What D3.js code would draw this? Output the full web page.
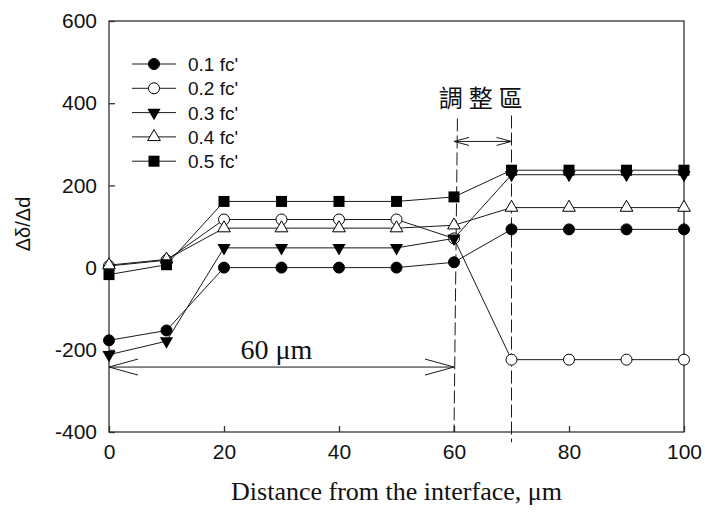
<!DOCTYPE html>
<html>
<head>
<meta charset="utf-8">
<script src="https://cdn.jsdelivr.net/npm/d3@7"></script>
<style>
body { margin: 0; background: #fff; }
svg text { font-family: Arial, "Liberation Sans", sans-serif; }
</style>
</head>
<body>
<svg id="chart" width="705" height="513"></svg>
<script>
var xs = [0, 10, 20, 30, 40, 50, 60, 70, 80, 90, 100];
var fc01 = [-177, -153, 0, 0, 0, 0, 13, 93, 93, 93, 93];
var fc02 = [4, 18, 117, 117, 117, 117, 71, -224, -224, -224, -224];
var fc03 = [-212, -179, 48, 48, 48, 48, 71, 226, 226, 226, 226];
var fc04 = [6, 20, 96, 96, 96, 96, 103, 146, 146, 146, 146];
var fc05 = [-17, 7, 161, 161, 161, 161, 172, 237, 237, 237, 237];
var seriesNames = ["0.1 fc'", "0.2 fc'", "0.3 fc'", "0.4 fc'", "0.5 fc'"];
var markerKinds = ["circleFill", "circleOpen", "triDown", "triUpOpen", "square"];
var xTicks = [0, 20, 40, 60, 80, 100];
var yTicks = [-400, -200, 0, 200, 400, 600];

// annotation values (data units)
var zoneLines = [[60.6, 363, 60, -400], [70, 370, 70, -425]]; // x top, y top, x bottom, y bottom
var zoneArrow = [60, 70, 307];
var spanArrow = [0, 60, -242];

var margin = {left: 109, right: 21, top: 21, bottom: 81};
var W = 705, H = 513;
var svg = d3.select("#chart");

var x = d3.scaleLinear().domain([0, 100]).range([margin.left, W - margin.right]);
var y = d3.scaleLinear().domain([-400, 600]).range([H - margin.bottom, margin.top]);

var ink = "#1a1a1a";

// frame
svg.append("rect").attr("x", x(0)).attr("y", y(600))
	.attr("width", x(100) - x(0)).attr("height", y(-400) - y(600))
	.attr("fill", "none").attr("stroke", "#333").attr("stroke-width", 1.3);

var plain = function(d){return String(d);};
var xAxis = svg.append("g").attr("transform", "translate(0," + y(-400) + ")")
	.call(d3.axisBottom(x).tickValues(xTicks).tickFormat(plain).tickSizeInner(-6).tickSizeOuter(0).tickPadding(12));
var yAxis = svg.append("g").attr("transform", "translate(" + x(0) + ",0)")
	.call(d3.axisLeft(y).tickValues(yTicks).tickFormat(plain).tickSizeInner(-6).tickSizeOuter(0).tickPadding(12));
[xAxis, yAxis].forEach(function(a){
	a.select(".domain").remove();
	a.selectAll("line").attr("stroke", "#333").attr("stroke-width", 1.3);
	a.selectAll("text").attr("font-size", 21).attr("fill", "#111")
		.attr("font-family", "Arial, 'Liberation Sans', sans-serif");
});

// axis titles
svg.append("text").attr("x", (x(0) + x(100)) / 2).attr("y", 500)
	.attr("text-anchor", "middle").attr("font-size", 26)
	.style("font-family", "'Times New Roman', 'Liberation Serif', serif")
	.attr("fill", "#111").text("Distance from the interface, \u03bcm");
svg.append("text").attr("transform", "translate(30,224) rotate(-90)")
	.attr("text-anchor", "middle").attr("font-size", 20).attr("fill", "#111")
	.text("\u0394\u03b4/\u0394d");

// dashed zone lines
svg.selectAll("line.zone").data(zoneLines).enter().append("line").attr("class", "zone")
	.attr("x1", function(d){return x(d[0]);}).attr("y1", function(d){return y(d[1]);})
	.attr("x2", function(d){return x(d[2]);}).attr("y2", function(d){return y(d[3]);})
	.attr("stroke", ink).attr("stroke-width", 1).attr("stroke-dasharray", "13,4");

function arrowHead(g, px, py, dir, len, half){
	g.append("polyline")
		.attr("points", (px + dir*len) + "," + (py - half) + " " + px + "," + py + " " + (px + dir*len) + "," + (py + half))
		.attr("fill", "none").attr("stroke", ink).attr("stroke-width", 1);
}
function doubleArrow(a, len, half){
	var g = svg.append("g");
	var x1 = x(a[0]), x2 = x(a[1]), yy = y(a[2]);
	g.append("line").attr("x1", x1).attr("x2", x2).attr("y1", yy).attr("y2", yy)
		.attr("stroke", ink).attr("stroke-width", 1);
	arrowHead(g, x1, yy, 1, len, half);
	arrowHead(g, x2, yy, -1, len, half);
}
doubleArrow(spanArrow, 29, 8);
doubleArrow(zoneArrow, 15, 4);

svg.append("text").attr("x", (x(60) + x(70)) / 2 + 1).attr("y", 107)
	.attr("text-anchor", "middle").attr("font-size", 24).attr("letter-spacing", 6)
	.style("font-family", "'Noto Sans CJK TC', 'Noto Sans CJK SC', sans-serif")
	.attr("fill", "#111").text("\u8abf\u6574\u5340");

svg.append("text").attr("x", (x(0) + x(60)) / 2 - 5).attr("y", 359)
	.attr("text-anchor", "middle").attr("font-size", 28)
	.style("font-family", "'Times New Roman', 'Liberation Serif', serif")
	.attr("fill", "#111").text("60 \u03bcm");

// markers
function drawMarker(g, kind, cx, cy){
	if (kind == "circleFill" || kind == "circleOpen"){
		g.append("circle").attr("cx", cx).attr("cy", cy).attr("r", 5.5)
			.attr("fill", kind == "circleFill" ? "#000" : "#fff").attr("stroke", "#000").attr("stroke-width", 1);
	} else if (kind == "square"){
		g.append("rect").attr("x", cx - 5.5).attr("y", cy - 5.5).attr("width", 11).attr("height", 11)
			.attr("fill", "#000");
	} else if (kind == "triDown"){
		g.append("path").attr("d", d3.symbol(d3.symbolTriangle, 75)()).attr("transform", "translate(" + cx + "," + cy + ") rotate(180)")
			.attr("fill", "#000");
	} else {
		g.append("path").attr("d", d3.symbol(d3.symbolTriangle, 70)()).attr("transform", "translate(" + cx + "," + cy + ")")
			.attr("fill", "#fff").attr("stroke", "#000").attr("stroke-width", 1);
	}
}

var allSeries = [fc01, fc02, fc03, fc04, fc05];
var line = d3.line().x(function(d){return x(d[0]);}).y(function(d){return y(d[1]);});
allSeries.forEach(function(vals, i){
	var pts = xs.map(function(v, k){return [v, vals[k]];});
	var g = svg.append("g");
	g.append("path").attr("d", line(pts)).attr("fill", "none").attr("stroke", ink).attr("stroke-width", 1);
	pts.forEach(function(p){drawMarker(g, markerKinds[i], x(p[0]), y(p[1]));});
});

// legend
var leg = svg.append("g");
seriesNames.forEach(function(name, i){
	var ly = 64 + i * 24.3;
	leg.append("line").attr("x1", 132).attr("x2", 176).attr("y1", ly).attr("y2", ly)
		.attr("stroke", ink).attr("stroke-width", 1);
	drawMarker(leg, markerKinds[i], 154, ly);
	leg.append("text").attr("x", 188).attr("y", ly + 7).attr("font-size", 19).attr("fill", "#111").text(name);
});
</script>
</body>
</html>
